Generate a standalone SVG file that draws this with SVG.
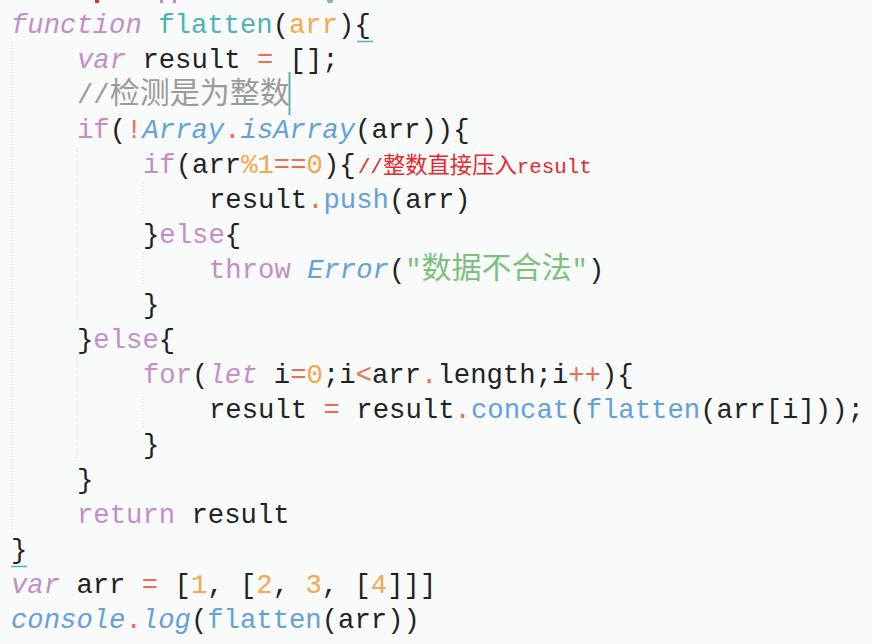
<svg xmlns="http://www.w3.org/2000/svg" width="872" height="644" viewBox="0 0 872 644">
<style>
.code{font-family:"Liberation Mono","DejaVu Sans Mono","Noto Sans CJK SC",monospace;font-size:27.25px;fill:#222222;white-space:pre}
.cjk{font-family:"Noto Sans CJK SC",sans-serif;font-size:30px}
.kw{fill:#c48dc6}
.it{font-style:italic}
.fn{fill:#4fb3b3}
.pa{fill:#f6a64e}
.op{fill:#f26b4f}
.nu{fill:#f6a64e}
.bl{fill:#64a0da}
.st{fill:#7dc07d}
.cm{fill:#9a9a9a}
.rc{font-family:"Liberation Mono",monospace;font-size:20.8px;fill:#e8262c}
.rcj{font-family:"Noto Sans CJK SC",sans-serif;font-size:22.3px}
.guide{stroke:#cfd3d3;stroke-width:1;stroke-dasharray:1 2;fill:none}
.match{stroke:#4fb3b3;stroke-width:1.5}
</style>
<rect width="872" height="644" fill="#f9fbfb"/>
<g id="fragments">
<rect x="95" y="0" width="4" height="3" fill="#e8262c"/>
<rect x="160" y="0" width="3" height="3" fill="#c48dc6"/>
<rect x="173" y="0" width="3" height="3" fill="#c48dc6"/>
<ellipse cx="330" cy="1" rx="3" ry="2" fill="#7dc07d"/>
</g>
<g id="guides">
<line class="guide" x1="12" y1="42" x2="12" y2="530"/>
<line class="guide" x1="77" y1="148" x2="77" y2="320"/>
<line class="guide" x1="77" y1="358" x2="77" y2="460"/>
<line class="guide" x1="143" y1="183" x2="143" y2="215"/>
<line class="guide" x1="143" y1="253" x2="143" y2="285"/>
<line class="guide" x1="143" y1="393" x2="143" y2="427"/>
</g>
<g id="bracket-match">
<line class="match" x1="357" y1="41.5" x2="373" y2="41.5"/>
<line class="match" x1="11" y1="566.5" x2="27" y2="566.5"/>
</g>
<g id="cursor">
<rect x="288.5" y="72" width="2" height="43" fill="#5fb0b0"/>
</g>
<g id="code" class="code" xml:space="preserve">
<text x="11" y="33"><tspan class="kw it">function</tspan> <tspan class="fn">flatten</tspan>(<tspan class="pa">arr</tspan>){</text>
<text x="77" y="68"><tspan class="kw it">var</tspan> result <tspan class="op">=</tspan> [];</text>
<text x="77" y="103" class="cm">//<tspan class="cjk">检测是为整数</tspan></text>
<text x="77" y="138"><tspan class="kw">if</tspan>(<tspan class="op">!</tspan><tspan class="bl it">Array</tspan><tspan class="op">.</tspan><tspan class="bl it">isArray</tspan>(arr)){</text>
<text x="143" y="173"><tspan class="kw">if</tspan>(arr<tspan class="nu">%1</tspan><tspan class="op">==</tspan><tspan class="nu">0</tspan>){</text>
<text x="358" y="173" class="rc">//<tspan class="rcj">整数直接压入</tspan>result</text>
<text x="209" y="208">result<tspan class="op">.</tspan><tspan class="bl">push</tspan>(arr)</text>
<text x="143" y="243">}<tspan class="kw">else</tspan>{</text>
<text x="209" y="278"><tspan class="kw">throw</tspan> <tspan class="bl it">Error</tspan>(<tspan class="st">"<tspan class="cjk">数据不合法</tspan>"</tspan>)</text>
<text x="143" y="313">}</text>
<text x="77" y="348">}<tspan class="kw">else</tspan>{</text>
<text x="143" y="383"><tspan class="kw">for</tspan>(<tspan class="kw it">let</tspan> i<tspan class="op">=</tspan><tspan class="nu">0</tspan>;i<tspan class="op">&lt;</tspan>arr<tspan class="op">.</tspan>length;i<tspan class="op">++</tspan>){</text>
<text x="209" y="418" textLength="655" lengthAdjust="spacingAndGlyphs">result <tspan class="op">=</tspan> result<tspan class="op">.</tspan><tspan class="bl">concat</tspan>(<tspan class="bl">flatten</tspan>(arr[i]));</text>
<text x="143" y="453">}</text>
<text x="77" y="488">}</text>
<text x="77" y="523"><tspan class="kw">return</tspan> result</text>
<text x="11" y="558">}</text>
<text x="11" y="593"><tspan class="kw it">var</tspan> arr <tspan class="op">=</tspan> [<tspan class="nu">1</tspan>, [<tspan class="nu">2</tspan>, <tspan class="nu">3</tspan>, [<tspan class="nu">4</tspan>]]]</text>
<text x="11" y="628"><tspan class="bl it">console</tspan><tspan class="op">.</tspan><tspan class="bl it">log</tspan>(<tspan class="bl">flatten</tspan>(arr))</text>
</g>
</svg>
